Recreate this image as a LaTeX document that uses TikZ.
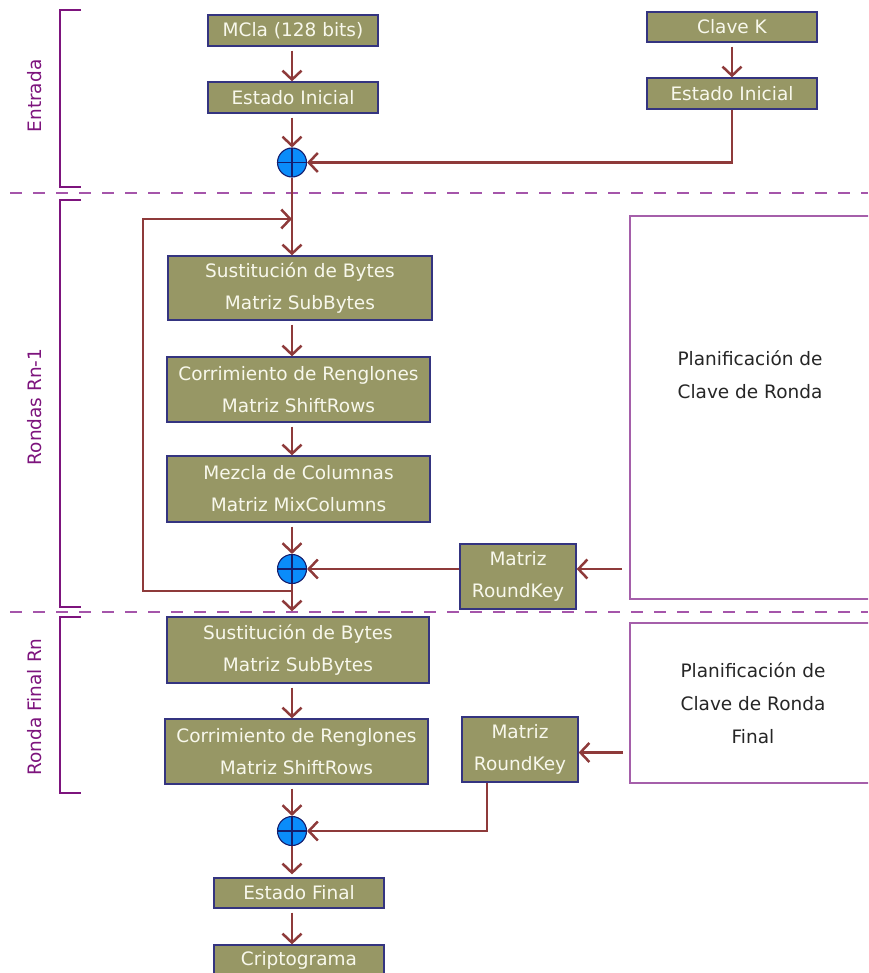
\documentclass[tikz,border=0pt]{standalone}
\usepackage{fontspec}
\setmainfont{DejaVu Sans}
\usetikzlibrary{calc,arrows.meta}

\definecolor{olivebox}{RGB}{151,151,101}
\definecolor{boxedge}{RGB}{52,52,128}
\definecolor{boxtext}{RGB}{248,248,236}
\definecolor{flowred}{RGB}{142,58,58}
\definecolor{bracketpurple}{RGB}{125,20,125}
\definecolor{dashpurple}{RGB}{165,85,170}
\definecolor{planedge}{RGB}{165,95,170}
\definecolor{xorblue}{RGB}{10,140,250}
\definecolor{xoredge}{RGB}{20,30,110}

\begin{document}
\begin{tikzpicture}[
  x=1pt,y=-1pt,
  >={Straight Barb[length=9pt,width=19pt]},
  stage/.style={draw=boxedge,fill=olivebox,text=boxtext,line width=1.3pt,
    inner sep=0pt,align=center,font=\fontsize{18.5}{32}\selectfont},
  shortbox/.style={stage,minimum width=170pt,minimum height=31pt},
  widebox/.style={stage,minimum width=263pt,minimum height=65pt},
  keybox/.style={stage,minimum width=116pt,minimum height=65pt},
  xorop/.style={circle,draw=xoredge,fill=xorblue,line width=1.1pt,
    minimum size=29pt,inner sep=0pt,
    path picture={\draw[xoredge,line width=1.1pt]
      (path picture bounding box.north) -- (path picture bounding box.south)
      (path picture bounding box.west) -- (path picture bounding box.east);}},
  flow/.style={draw=flowred,line width=2.5pt,->},
  plan/.style={draw=planedge,line width=1.6pt,inner sep=0pt,align=center,
    text=black!85,font=\fontsize{18.5}{33}\selectfont},
  phase/.style={draw=bracketpurple,line width=2pt},
  phasetext/.style={rotate=90,text=bracketpurple,font=\fontsize{18.5}{22}\selectfont},
  divider/.style={draw=dashpurple,line width=1.6pt,dash pattern=on 12pt off 11pt}
]
\useasboundingbox (0,0) rectangle (868,973);
\clip (0,0) rectangle (868,973);

% round separators
\draw[divider] (10,193) -- (868,193);
\draw[divider] (10,612) -- (868,612);

% brackets on the left
\draw[phase] (81,10) -- (60,10) -- (60,187) -- (81,187);
\node[phasetext] (entrada) at (35,96) {Entrada};
\draw[phase] (81,200) -- (60,200) -- (60,607) -- (81,607);
\node[phasetext] (rondas) at (35,407) {Rondas Rn-1};
\draw[phase] (81,617) -- (60,617) -- (60,793) -- (81,793);
\node[phasetext] (final) at (35,707) {Ronda Final Rn};

% input
\node[shortbox] (mcla) at (293,30.5) {MCla (128 bits)};
\node[shortbox] (initL) at (293,97.5) {Estado Inicial};
\node[shortbox,minimum height=30pt] (clave) at (732,27) {Clave K};
\node[shortbox] (initR) at (732,93.5) {Estado Inicial};
\node[xorop] (xor1) at (292,162.5) {};

% rounds
\node[widebox,minimum width=264pt,minimum height=64pt] (sust1) at (300,288)
  {Sustitución de Bytes\\Matriz SubBytes};
\node[widebox] (corr1) at (298.5,389.5) {Corrimiento de Renglones\\Matriz ShiftRows};
\node[widebox,minimum height=66pt] (mezcla) at (298.5,489) {Mezcla de Columnas\\Matriz MixColumns};
\node[xorop] (xor2) at (292,569) {};
\node[keybox] (rk1) at (518,576.5) {Matriz\\RoundKey};
\node[plan,minimum width=240pt,minimum height=383pt] (plan1) at (750,407.5) {};
\node[plan,draw=none] (plan1txt) at (750,375) {Planificación de\\Clave de Ronda};

% final round
\node[widebox,minimum width=262pt,minimum height=66pt] (sust2) at (298,650)
  {Sustitución de Bytes\\Matriz SubBytes};
\node[widebox] (corr2) at (296.5,751.5) {Corrimiento de Renglones\\Matriz ShiftRows};
\node[keybox] (rk2) at (520,749.5) {Matriz\\RoundKey};
\node[plan,minimum width=246pt,minimum height=160pt] (plan2) at (753,703)
  {Planificación de\\Clave de Ronda\\Final};
\node[xorop] (xor3) at (292,831) {};

% output
\node[shortbox,minimum height=30pt] (fin) at (299,893) {Estado Final};
\node[shortbox,minimum height=30pt] (cripto) at (299,960) {Criptograma};

% data flow
\draw[flow,shorten <=4pt] (mcla.south -| xor1) -- (initL.north -| xor1);
\draw[flow,shorten <=4pt] (initL.south -| xor1) -- (xor1.north);
\draw[flow,shorten <=4pt] (clave) -- (initR);
\draw[flow] (initR.south) |- (xor1.east);
\draw[flow] (xor1.south) -- (sust1.north -| xor1);

\coordinate (tap) at (292,591);
\coordinate (loopin) at (292,219);
\draw[flow] (tap) -- ++(-149,0) |- (loopin);

\draw[flow,shorten <=4pt] (sust1.south -| xor2) -- (corr1.north -| xor2);
\draw[flow,shorten <=4pt] (corr1.south -| xor2) -- (mezcla.north -| xor2);
\draw[flow,shorten <=4pt] (mezcla.south -| xor2) -- (xor2.north);
\draw[flow,shorten <=7pt] (plan1.west |- xor2) -- (rk1.east |- xor2);
\draw[flow] (rk1.west |- xor2) -- (xor2.east);
\draw[flow,shorten >=5pt] (xor2.south) -- (sust2.north -| xor2);

\draw[flow,shorten <=4pt] (sust2.south -| xor3) -- (corr2.north -| xor3);
\draw[flow,shorten <=4pt] (corr2.south -| xor3) -- (xor3.north);
\draw[flow,shorten <=6pt] ($(plan2.west |- rk2.east)+(0,3)$) -- ($(rk2.east)+(0,3)$);
\draw[flow] ($(rk2.south)+(-33,0)$) |- (xor3.east);
\draw[flow,shorten >=3pt] (xor3.south) -- (fin.north -| xor3);
\draw[flow,shorten <=4pt] (fin.south -| xor3) -- (cripto.north -| xor3);

\end{tikzpicture}
\end{document}
